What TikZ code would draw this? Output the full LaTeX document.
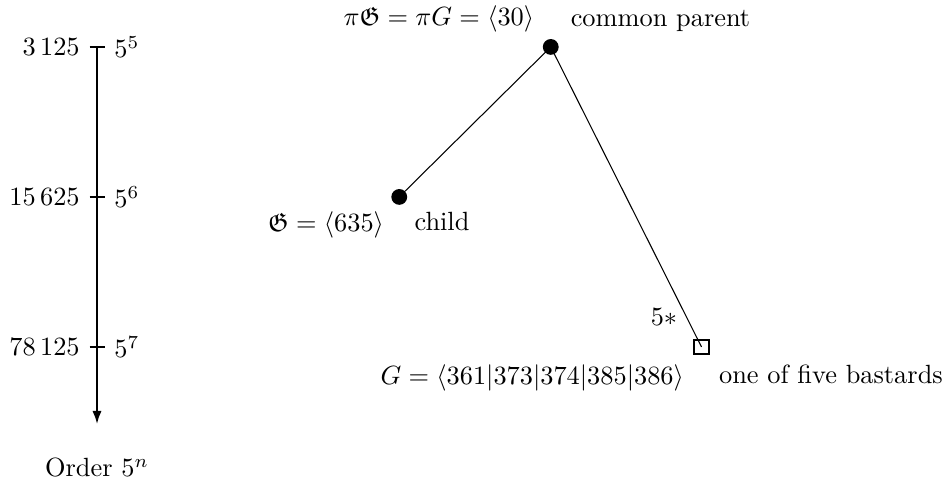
\documentclass[tikz,border=0pt]{standalone}
\usepackage{amssymb}
\usetikzlibrary{positioning,arrows.meta}

\begin{document}
\begin{tikzpicture}[
  dot/.style={circle, fill=black, inner sep=0pt, minimum size=6pt},
  bastard/.style={rectangle, draw=black, thick, inner sep=0pt, minimum size=5.5pt},
  axis/.style={thick, -{Latex[length=5pt,width=3.5pt]}},
  tick/.style={thick},
  edge/.style={thin},
]

% === Bounding box (keeps the margins) ===
\useasboundingbox (-36.8pt,17.8pt) rectangle (321.7pt,-166.9pt);

% === Order axis ===
\coordinate (axtop) at (0,0);
\coordinate (axend) at (0,-5.03);
\draw[axis] (axtop) -- (axend);
\foreach \y/\val/\ex in {0/{3\,125}/5, -2/{15\,625}/6, -4/{78\,125}/7}{
  \draw[tick] (-0.1,\y) node[left] (num\ex) {$\val$}
    -- (0.1,\y) node[right] (pow\ex) {$5^{\ex}$};
}
\node[anchor=base] (order) at (0,-5.73) {Order $5^n$};

% === Groups ===
\node[dot] (parent) at (6.05,0) {};
\node[dot] (child) at (4.03,-2) {};
\node[bastard] (bast) at (8.06,-4) {};

% === Edges ===
\draw[edge] (parent.center) -- (child.center);
\draw[edge] (parent.center) -- node[pos=0.9, left] (mult) {$5*$} (bast.center);

% === Labels ===
\node[above left=0pt and 0.5pt of parent] (parentmath)
  {$\pi\mathfrak{G} = \pi G = \langle 30\rangle$};
\node[above right=0pt and 1.8pt of parent] (parenttxt) {common parent};
\node[below left=0pt of child] (childmath) {$\mathfrak{G} = \langle 635\rangle$};
\node[below right=0pt of child] (childtxt) {child};
\node[below left=0pt of bast] (bastmath)
  {$G = \langle 361|373|374|385|386\rangle$};
\node[below right=0pt of bast] (basttxt) {one of five bastards};

\end{tikzpicture}
\end{document}
